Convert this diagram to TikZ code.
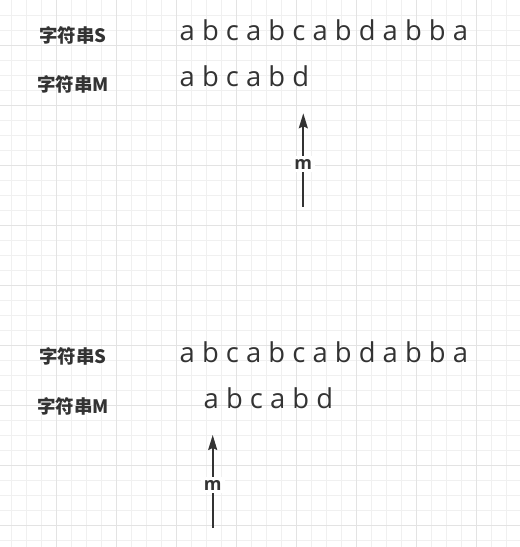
\documentclass[tikz,border=0pt]{standalone}
\usepackage{fontspec}
\setmainfont{Open Sans}
\newfontfamily\cjk{Noto Sans CJK SC}
\usetikzlibrary{arrows.meta}

\definecolor{GMinor}{HTML}{F0F0F0}
\definecolor{GMajor}{HTML}{E3E3E3}
\definecolor{TDark}{HTML}{333333}

\tikzset{
	strlabel/.style={font=\fontsize{18.5}{18.5}\selectfont\cjk\bfseries, text=TDark, inner sep=0pt},
	strchars/.style={font=\fontsize{27.4}{27.4}\selectfont, text=TDark, anchor=base west, inner sep=0pt},
	ptrlabel/.style={font=\fontsize{18}{18}\selectfont\bfseries, text=TDark, fill=white, inner sep=3pt},
	ptr/.style={TDark, line width=1.7pt, -{Stealth[length=15pt, width=9pt, inset=2pt]}}
}

\begin{document}
\begin{tikzpicture}[x=1pt, y=-1pt]
			\useasboundingbox (0,0) rectangle (520,547);
			\fill[white] (0,0) rectangle (520,547);
			% grid
			\foreach \gx in {0,...,33}
				\draw[GMinor, line width=1pt] ({11.7+15*\gx},0) -- ({11.7+15*\gx},547);
			\foreach \gy in {1,...,36}
				\draw[GMinor, line width=1pt] (0,{15*\gy}) -- (520,{15*\gy});
			\foreach \gx in {0,...,7}
				\draw[GMajor, line width=1pt] ({56.7+60*\gx},0) -- ({56.7+60*\gx},547);
			\foreach \gy in {0,...,8}
				\draw[GMajor, line width=1pt] (0,{45+60*\gy}) -- (520,{45+60*\gy});
			
			% first step
			\node[strlabel] (lblSA) at (73,35.3) {字符串S};
			\node[strlabel] (lblMA) at (73,84.3) {字符串M};
			\node[strchars] (strSA) at (179.5,40.5) {a b c a b c a b d a b b a};
			\node[strchars] (strMA) at (179.5,86.7) {a b c a b d};
			\coordinate (ptrAtip) at (303.3,113.3);
			\coordinate (ptrAend) at (303.3,206.7);
			\draw[ptr] (ptrAend) -- (ptrAtip);
			\node[ptrlabel] (mA) at (303.3,164) {m};
			
			% second step
			\node[strlabel] (lblSB) at (73,356.7) {字符串S};
			\node[strlabel] (lblMB) at (73,406.7) {字符串M};
			\node[strchars] (strSB) at (179.5,362) {a b c a b c a b d a b b a};
			\node[strchars] (strMB) at (203.5,408.7) {a b c a b d};
			\coordinate (ptrBtip) at (212.7,435);
			\coordinate (ptrBend) at (212.7,528);
			\draw[ptr] (ptrBend) -- (ptrBtip);
			\node[ptrlabel] (mB) at (212.7,485) {m};
		\end{tikzpicture}
\end{document}
